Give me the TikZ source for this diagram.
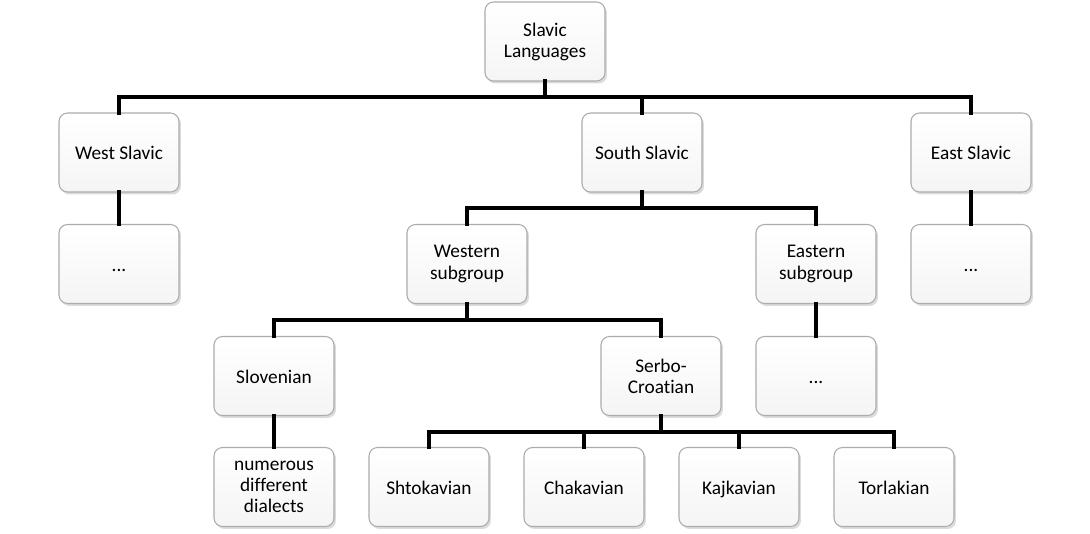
\documentclass[tikz,border=0pt]{standalone}
\usepackage{fontspec}
\setmainfont[Ligatures=NoCommon]{Carlito}
\usetikzlibrary{shadows}
\begin{document}
\begin{tikzpicture}[x=0.02cm,y=-0.02cm,
  box/.style={draw=gray!65, line width=0.6pt, rounded corners=0.17cm,
    top color=white, bottom color=gray!8,
    minimum width=2.4cm, minimum height=1.58cm, inner sep=1pt,
    align=center, font=\fontsize{11}{12}\selectfont,
    drop shadow={shadow xshift=0.04cm, shadow yshift=-0.05cm, opacity=0.4, fill=gray!70}},
  one/.style={box, text height=9.6pt, text depth=1.5pt},
  conn/.style={line width=2.4pt, line join=miter, line cap=rect}]
\useasboundingbox[fill=white] (0,0) rectangle (1090,534);
\node[box] (slav) at (545,41.5) {Slavic\\Languages};
\node[one] (west) at (119,152.5) {West Slavic};
\node[one] (south) at (642,152.5) {South Slavic};
\node[one] (east) at (971,152.5) {East Slavic};
\node[one] (wdots) at (119,264) {...};
\node[one] (edots) at (971,264) {...};
\node[box] (wsub) at (467,264) {Western\\subgroup};
\node[box] (esub) at (816,264) {Eastern\\subgroup};
\node[one] (slov) at (274,376) {Slovenian};
\node[box] (serb) at (661,376) {Serbo-\\Croatian};
\node[one] (esdots) at (816,376) {...};
\node[box] (dial) at (274,487) {numerous\\different\\dialects};
\node[one] (shto) at (429,487) {Shtokavian};
\node[one] (chak) at (584,487) {Chakavian};
\node[one] (kajk) at (739,487) {Kajkavian};
\node[one] (torl) at (894,487) {Torlakian};
\coordinate (b1) at (545,97);
\coordinate (b2) at (642,208);
\coordinate (b3) at (467,320);
\coordinate (b4) at (661,432);
\draw[conn] (slav.south) -- (b1) -| (west.north);
\draw[conn] (b1) -| (east.north);
\draw[conn] (b1) -| (south.north);
\draw[conn] (west.south) -- (wdots.north);
\draw[conn] (east.south) -- (edots.north);
\draw[conn] (south.south) -- (b2) -| (wsub.north);
\draw[conn] (b2) -| (esub.north);
\draw[conn] (esub.south) -- (esdots.north);
\draw[conn] (wsub.south) -- (b3) -| (slov.north);
\draw[conn] (b3) -| (serb.north);
\draw[conn] (slov.south) -- (dial.north);
\draw[conn] (serb.south) -- (b4) -| (shto.north);
\draw[conn] (b4) -| (chak.north);
\draw[conn] (b4) -| (kajk.north);
\draw[conn] (b4) -| (torl.north);
\end{tikzpicture}
\end{document}
